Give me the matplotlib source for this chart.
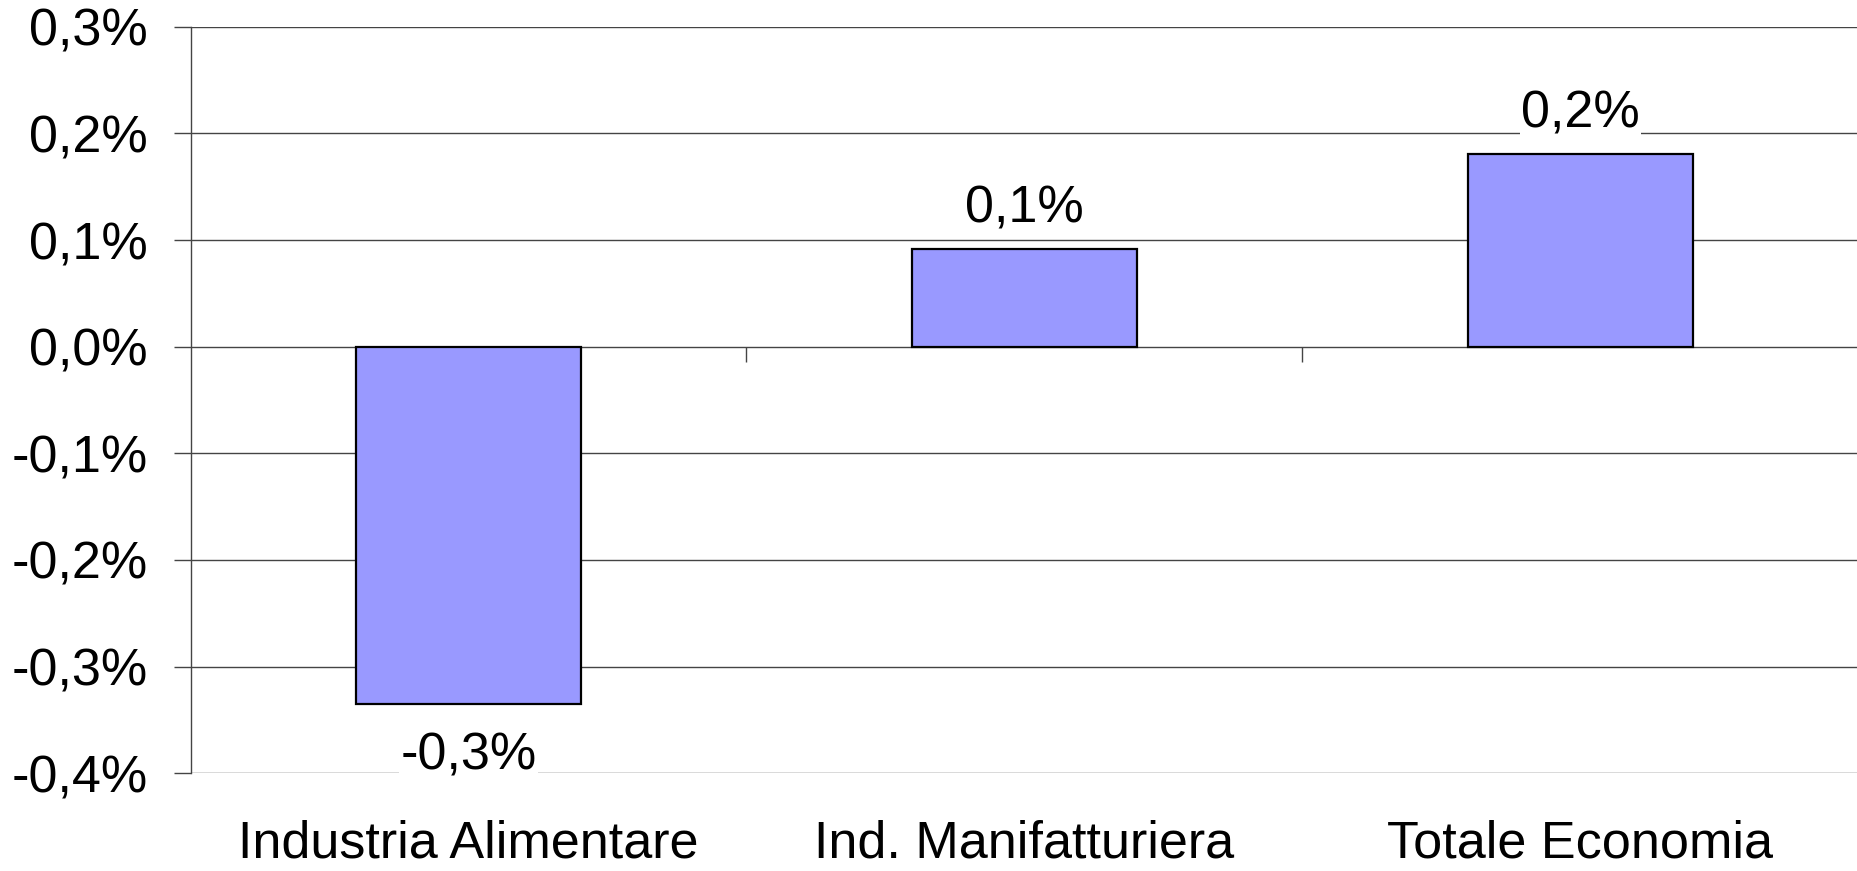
import matplotlib
matplotlib.use("Agg")
import matplotlib.pyplot as plt
import numpy as np

categories = ["Industria Alimentare", "Ind. Manifatturiera", "Totale Economia"]
values = [-0.335, 0.092, 0.181]
value_labels = ["-0,3%", "0,1%", "0,2%"]
yticks = [-0.4, -0.3, -0.2, -0.1, 0.0, 0.1, 0.2, 0.3]
ytick_labels = ["-0,4%", "-0,3%", "-0,2%", "-0,1%", "0,0%", "0,1%", "0,2%", "0,3%"]

plt.rcParams['font.family'] = ['Liberation Sans', 'DejaVu Sans']
FS = 37.5

fig = plt.figure(figsize=(18.58, 8.71), dpi=100)
ax = fig.add_axes([190.7 / 1858, 1 - 773.3 / 871, 1 - 190.7 / 1858, (773.3 - 26.7) / 871])

x = np.arange(len(categories))
bars = ax.bar(x, values, width=0.405, color="#9999FF", edgecolor="black",
              linewidth=1.6, zorder=3)

ax.set_xlim(-0.5, len(categories) - 0.5)
ax.set_ylim(yticks[0], yticks[-1])
ax.set_yticks(yticks)
ax.set_yticklabels(ytick_labels, fontsize=FS)
ax.tick_params(axis='y', direction='out', length=12, width=1.0, color='#444444', pad=19)

ax.set_xticks(x)
ax.set_xticklabels(categories, fontsize=FS)
ax.tick_params(axis='x', length=0, pad=33)

ax.yaxis.grid(True, color='#444444', linewidth=1.0, zorder=0)
ax.set_axisbelow(True)
for s in ['top', 'right', 'bottom']:
    ax.spines[s].set_visible(False)
ax.spines['left'].set_color('#444444')
ax.spines['left'].set_linewidth(1.0)

# category boundary ticks on the zero line
zero_frac = (0 - yticks[0]) / (yticks[-1] - yticks[0])
sec = ax.secondary_xaxis(zero_frac)
sec.set_xticks(x[:-1] + 0.5)
sec.set_xticklabels([])
sec.tick_params(axis='x', direction='in', length=11, width=1.0, color='#444444')
sec.spines['bottom'].set_visible(False)
sec.spines['top'].set_visible(False)

for xi, v, lab in zip(x, values, value_labels):
    off = 19 if v >= 0 else -47.5
    ax.annotate(lab, xy=(xi, v), xytext=(0, off), textcoords='offset points',
                ha='center', va='baseline', fontsize=FS, zorder=4,
                bbox=dict(boxstyle='square,pad=0.02', facecolor='white', edgecolor='none'))

fig.savefig("out.png", dpi=100, facecolor='white')
